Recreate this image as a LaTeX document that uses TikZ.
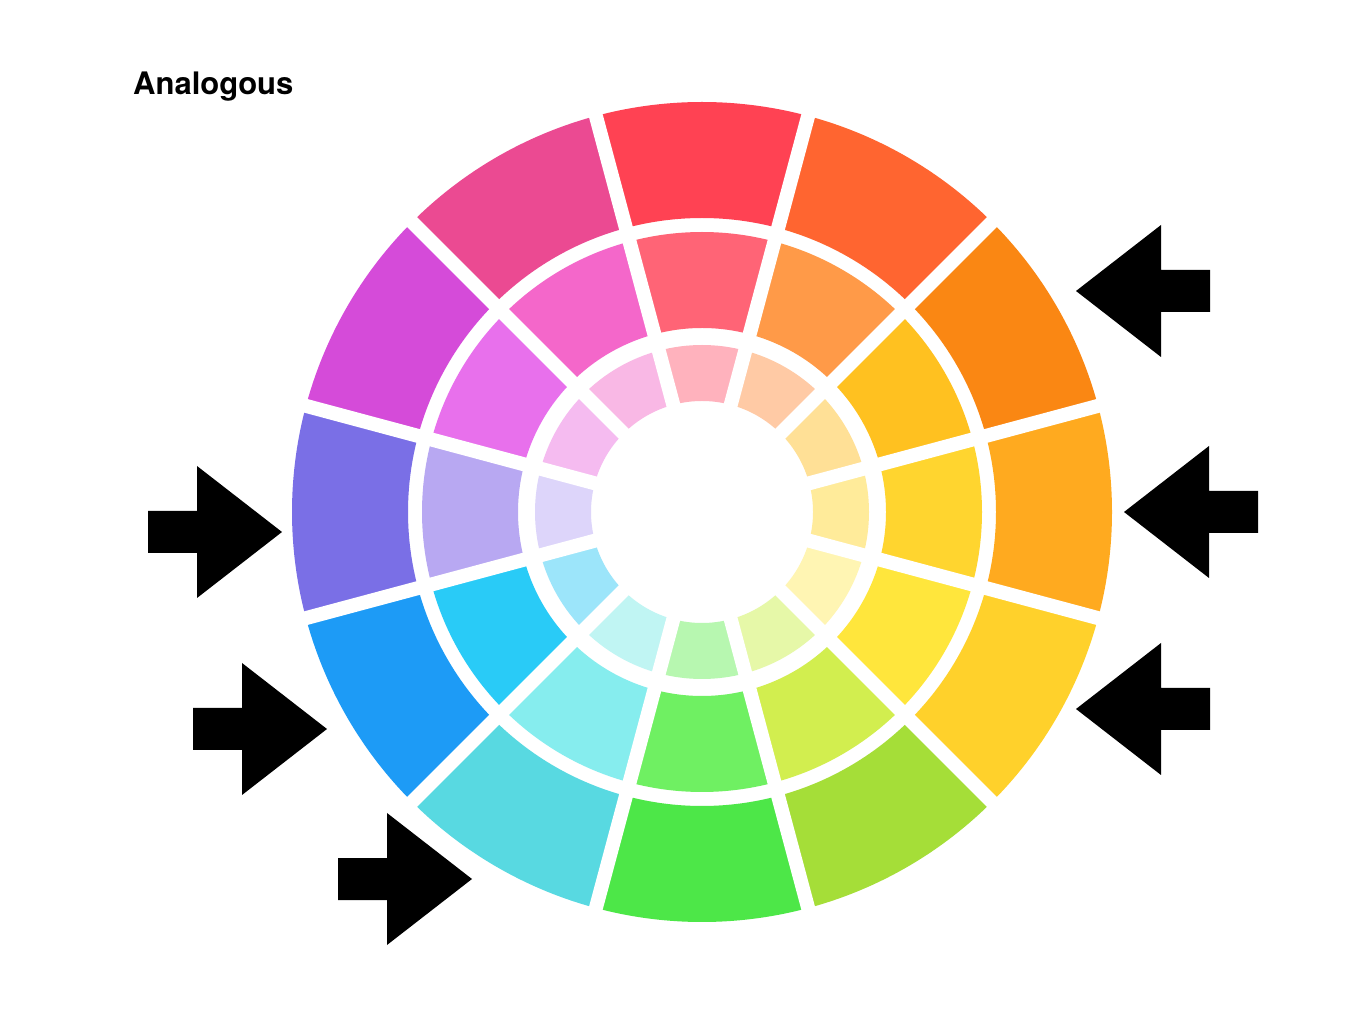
\documentclass[tikz,border=0pt]{standalone}
\usepackage{fontspec}
\newfontfamily\heros{TeX Gyre Heros}
\definecolor{o0}{HTML}{FF4253}\definecolor{o1}{HTML}{FF6530}\definecolor{o2}{HTML}{FA8713}
\definecolor{o3}{HTML}{FFAA1F}\definecolor{o4}{HTML}{FFD12B}\definecolor{o5}{HTML}{A5DE38}
\definecolor{o6}{HTML}{4DE748}\definecolor{o7}{HTML}{58D9E1}\definecolor{o8}{HTML}{1D9BF6}
\definecolor{o9}{HTML}{7A6FE6}\definecolor{o10}{HTML}{D54BD9}\definecolor{o11}{HTML}{EB4A92}
\definecolor{m0}{HTML}{FF6476}\definecolor{m1}{HTML}{FF9A48}\definecolor{m2}{HTML}{FFC120}
\definecolor{m3}{HTML}{FFD52F}\definecolor{m4}{HTML}{FFE63C}\definecolor{m5}{HTML}{D2EE4F}
\definecolor{m6}{HTML}{6FF062}\definecolor{m7}{HTML}{86EDEE}\definecolor{m8}{HTML}{29CBF7}
\definecolor{m9}{HTML}{B8A8F2}\definecolor{m10}{HTML}{E870EC}\definecolor{m11}{HTML}{F467CA}
\definecolor{i0}{HTML}{FFB2BD}\definecolor{i1}{HTML}{FFCAA5}\definecolor{i2}{HTML}{FFE096}
\definecolor{i3}{HTML}{FFEB9A}\definecolor{i4}{HTML}{FFF5B3}\definecolor{i5}{HTML}{E6F8A8}
\definecolor{i6}{HTML}{B7F7B0}\definecolor{i7}{HTML}{C0F5F3}\definecolor{i8}{HTML}{9CE5FA}
\definecolor{i9}{HTML}{DDD5FA}\definecolor{i10}{HTML}{F5BBF0}\definecolor{i11}{HTML}{F9B8E5}
\tikzset{
  blockarrow/.pic={\fill[black] (0,0) -- (-85,66) -- (-85,21) -- (-134,21) -- (-134,-21) -- (-85,-21) -- (-85,-66) -- cycle;},
  gapline/.style={draw=white, line width=14pt}
}
\begin{document}
\begin{tikzpicture}[x=1pt,y=1pt]
\useasboundingbox (0,0) rectangle (1365,1023);
\fill[white] (0,0) rectangle (1365,1023);
\node[anchor=base west, inner sep=0pt, font=\heros\fontsize{31}{37}\selectfont\bfseries] (title) at (133,928) {Analogous};
\begin{scope}[shift={(702,511)}]
  \foreach \k in {0,...,11}{
    \pgfmathsetmacro{\c}{90-30*\k}
    \pgfmathsetmacro{\a}{\c-15}
    \pgfmathsetmacro{\b}{\c+15}
    \fill[o\k] (\a:410) arc[start angle=\a, end angle=\b, radius=410] -- (\b:294) arc[start angle=\b, end angle=\a, radius=294] -- cycle;
    \fill[m\k] (\a:280) arc[start angle=\a, end angle=\b, radius=280] -- (\b:184) arc[start angle=\b, end angle=\a, radius=184] -- cycle;
    \fill[i\k] (\a:167) arc[start angle=\a, end angle=\b, radius=167] -- (\b:111) arc[start angle=\b, end angle=\a, radius=111] -- cycle;
  }
  \foreach \k in {0,...,11}{
    \pgfmathsetmacro{\a}{75-30*\k}
    \draw[gapline] (\a:100) -- (\a:420);
  }
\end{scope}
\pic[xscale=-1] at (1076,732) {blockarrow};
\pic[xscale=-1] at (1124,511) {blockarrow};
\pic[xscale=-1] at (1076,314) {blockarrow};
\pic at (282,491) {blockarrow};
\pic at (327,294) {blockarrow};
\pic at (472,144) {blockarrow};
\end{tikzpicture}
\end{document}
